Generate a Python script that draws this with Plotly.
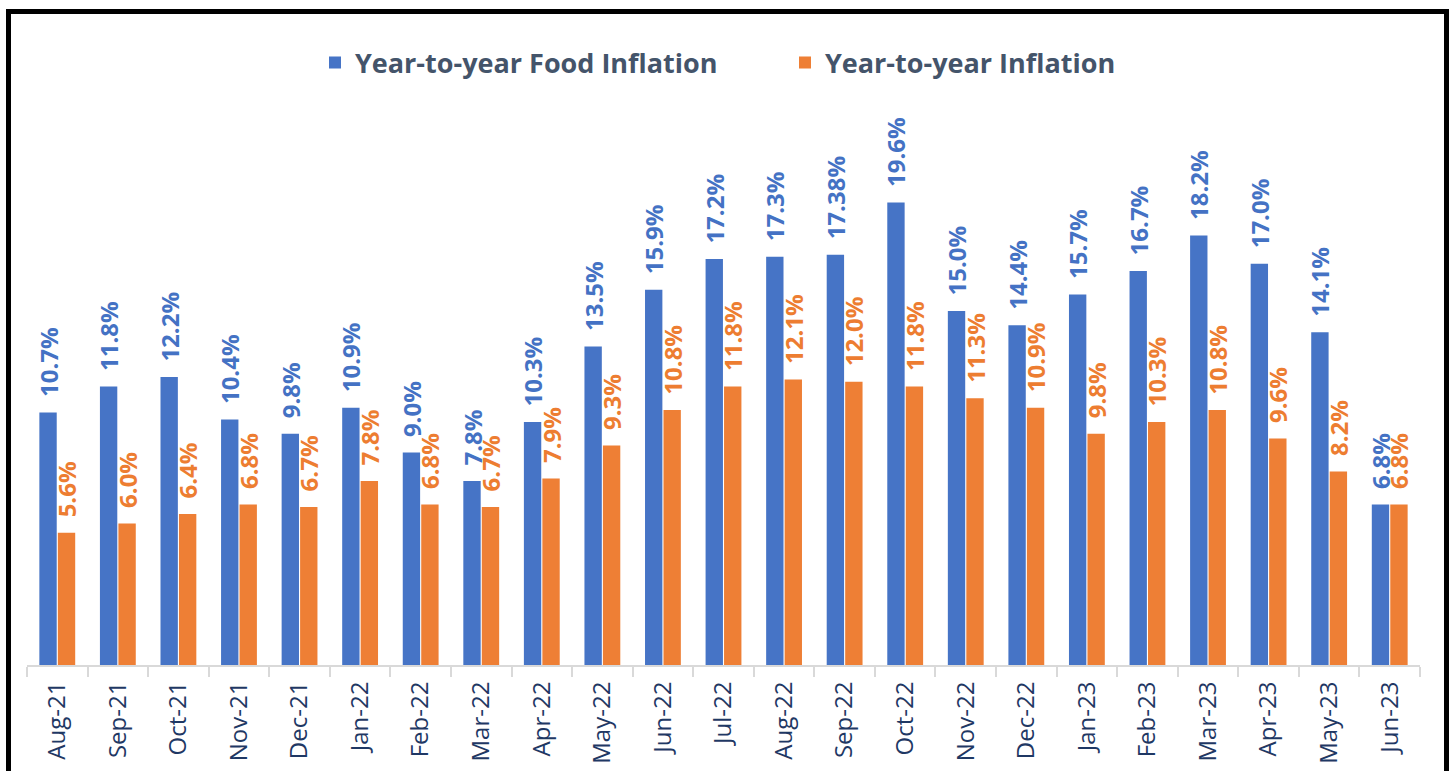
import plotly.graph_objects as go

months = ["Aug-21", "Sep-21", "Oct-21", "Nov-21", "Dec-21", "Jan-22", "Feb-22", "Mar-22",
          "Apr-22", "May-22", "Jun-22", "Jul-22", "Aug-22", "Sep-22", "Oct-22", "Nov-22",
          "Dec-22", "Jan-23", "Feb-23", "Mar-23", "Apr-23", "May-23", "Jun-23"]
food_inflation = [10.7, 11.8, 12.2, 10.4, 9.8, 10.9, 9.0, 7.8, 10.3, 13.5, 15.9, 17.2, 17.3,
                  17.38, 19.6, 15.0, 14.4, 15.7, 16.7, 18.2, 17.0, 14.1, 6.8]
inflation = [5.6, 6.0, 6.4, 6.8, 6.7, 7.8, 6.8, 6.7, 7.9, 9.3, 10.8, 11.8, 12.1, 12.0, 11.8,
             11.3, 10.9, 9.8, 10.3, 10.8, 9.6, 8.2, 6.8]


def fmt(v):
    # leading no-break spaces leave a gap between the bar top and the rotated label
    return "\u00a0\u00a0" + (f"{v:.1f}" if round(v, 1) == v else f"{v:.2f}") + "%"


BLUE = "#4674C6"
ORANGE = "#EE7F35"
BLUE_TXT = "#4472C4"
ORANGE_TXT = "#ED7D31"
FONT = "Open Sans"

fig = go.Figure()
fig.add_trace(go.Bar(
    x=months, y=food_inflation, name="Year-to-year Food Inflation",
    marker=dict(color=BLUE, line=dict(width=0)),
    text=[fmt(v) for v in food_inflation], textposition="outside", textangle=-90,
    constraintext="none", cliponaxis=False,
    textfont=dict(family=FONT, size=24, color=BLUE_TXT, weight="bold"),
))
fig.add_trace(go.Bar(
    x=months, y=inflation, name="Year-to-year Inflation",
    marker=dict(color=ORANGE, line=dict(width=0)),
    text=[fmt(v) for v in inflation], textposition="outside", textangle=-90,
    constraintext="none", cliponaxis=False,
    textfont=dict(family=FONT, size=24, color=ORANGE_TXT, weight="bold"),
))

L, R, T, B = 27, 36, 100, 106
W, H = 1456, 771
pw, ph = W - L - R, H - T - B


def px_x(p):
    return (p - L) / pw


def px_y(p):
    return 1 - (p - T) / ph


fig.update_layout(
    width=W, height=H,
    margin=dict(l=L, r=R, t=T, b=B, pad=0, autoexpand=False),
    paper_bgcolor="white", plot_bgcolor="white",
    barmode="group", bargap=0.39, bargroupgap=0.06,
    showlegend=True,
    legend=dict(orientation="h", x=px_x(315), xanchor="left", y=px_y(63), yanchor="middle",
                entrywidth=425, entrywidthmode="pixels",
                font=dict(family=FONT, size=27, color="#44546A", weight="bold"),
                bgcolor="rgba(0,0,0,0)", itemclick=False),
    xaxis=dict(showline=True, linecolor="#D9D9D9", linewidth=2,
               ticks="outside", tickson="boundaries", ticklen=10, tickcolor="#D9D9D9", tickwidth=2,
               tickangle=-90, tickfont=dict(family=FONT, size=24, color="#1F3864"),
               ticklabelstandoff=5,
               showgrid=False, zeroline=False, automargin=False),
    yaxis=dict(range=[0, ph / 23.6], visible=False, showgrid=False, zeroline=False),
    shapes=[dict(type="rect", xref="paper", yref="paper",
                 x0=px_x(8.5), x1=px_x(1446.5), y0=px_y(800), y1=px_y(11.5),
                 line=dict(color="black", width=5), layer="above")],
)

fig.write_html("out.html", config={"displayModeBar": False},
               post_script="document.body.style.margin='0';document.body.style.overflow='hidden';")
